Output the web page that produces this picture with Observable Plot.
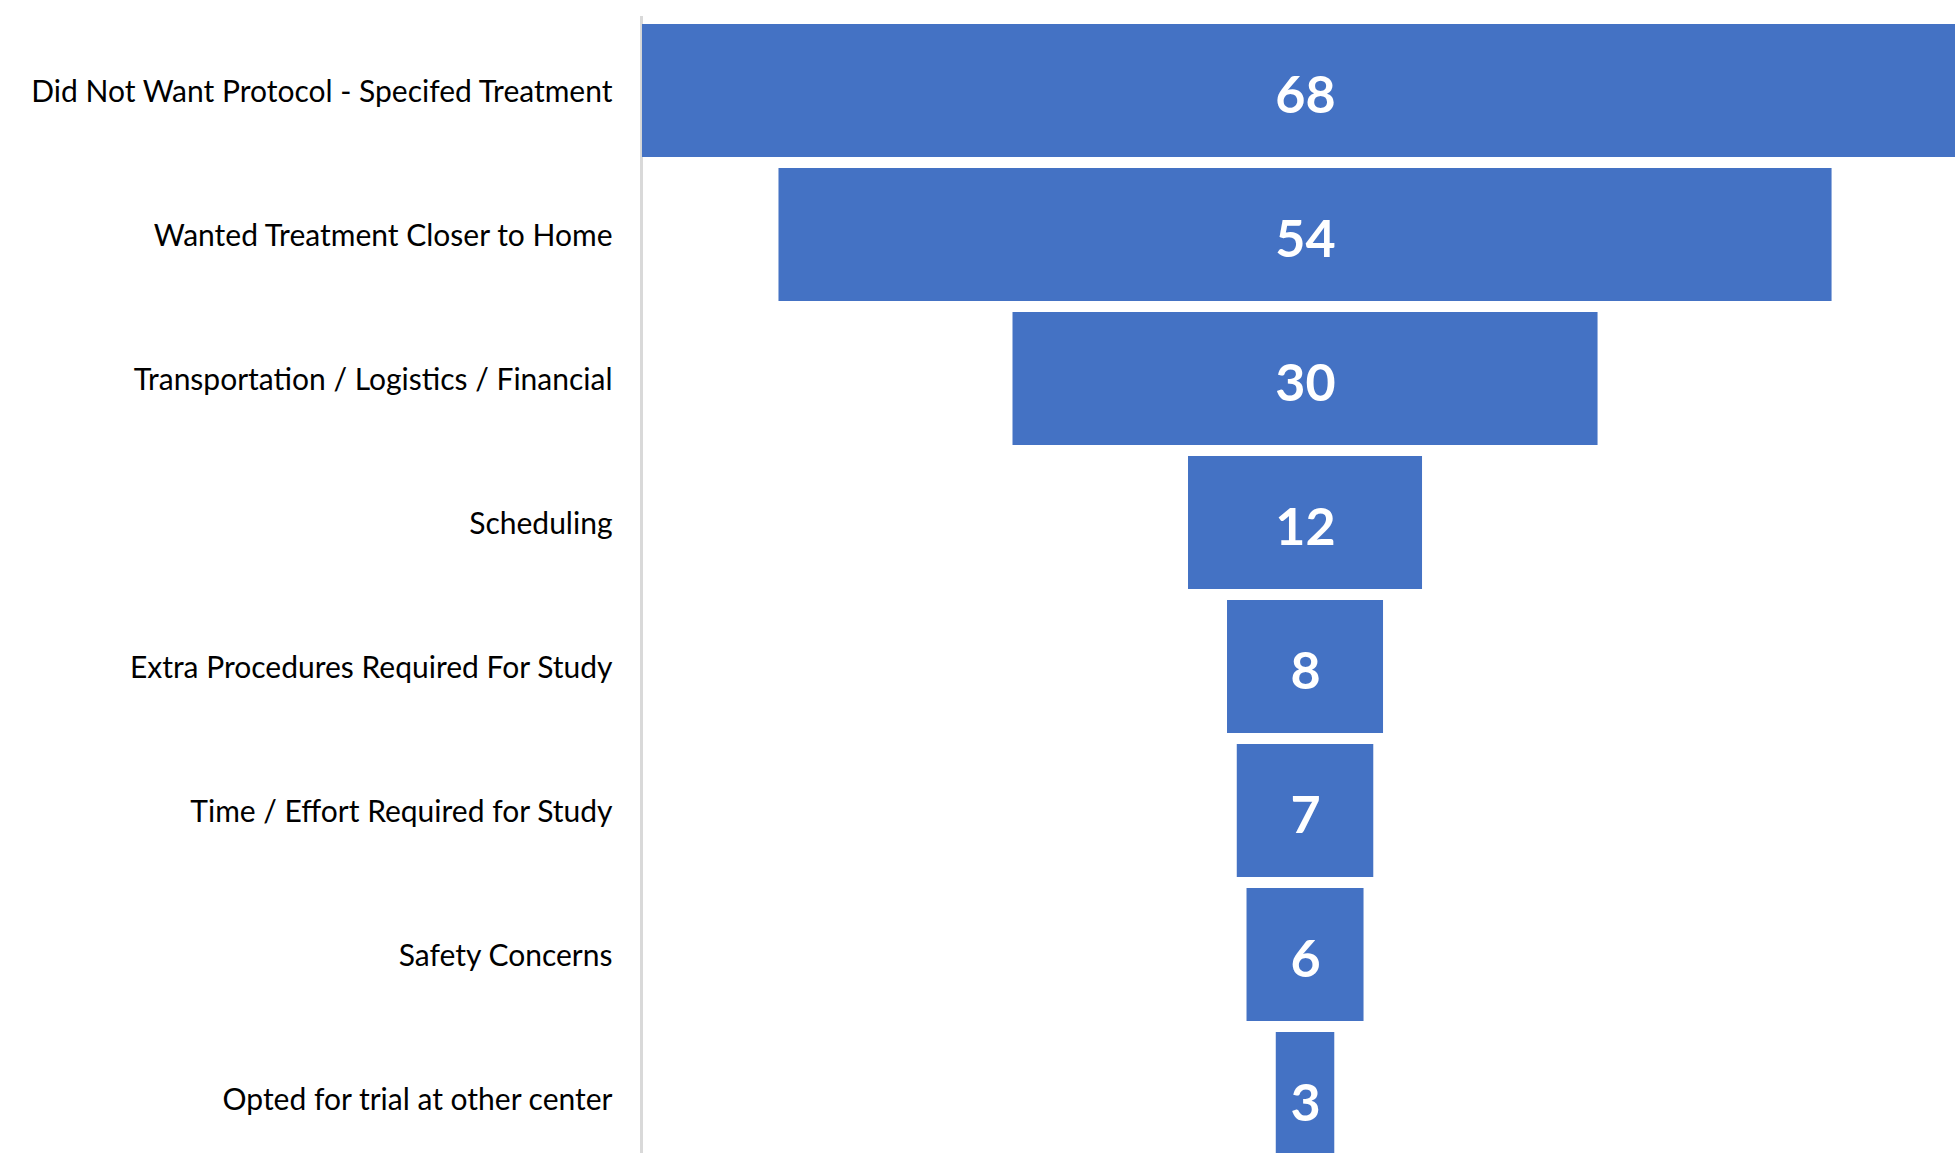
<!DOCTYPE html>
<html>
<head>
<meta charset="utf-8">
<script src="https://cdn.jsdelivr.net/npm/d3@7"></script>
<script src="https://cdn.jsdelivr.net/npm/@observablehq/plot@0.6"></script>
<style>
  html, body { margin: 0; padding: 0; background: #ffffff; }
  #chart svg { display: block; overflow: hidden; }
</style>
</head>
<body>
<div id="chart"></div>
<script>
const reasons = [
  "Did Not Want Protocol - Specifed Treatment",
  "Wanted Treatment Closer to Home",
  "Transportation / Logistics / Financial",
  "Scheduling",
  "Extra Procedures Required For Study",
  "Time / Effort Required for Study",
  "Safety Concerns",
  "Opted for trial at other center"
];
const counts = [68, 54, 30, 12, 8, 7, 6, 3];

const data = reasons.map((r, i) => ({reason: r, count: counts[i]}));

const chart = Plot.plot({
  width: 1955,
  height: 1153,
  marginLeft: 641,
  marginRight: 0,
  marginTop: 17,
  marginBottom: 0,
  style: {background: "#ffffff", color: "#000000"},
  x: {domain: [-34.05, 33.33], axis: null},
  y: {domain: reasons, range: [11, 1178], padding: 0.075, label: null},
  marks: [
    Plot.frame({anchor: "left", stroke: "#d9d9d9", strokeWidth: 3}),
    Plot.barX(data, {
      y: "reason",
      x1: d => -d.count / 2,
      x2: d => d.count / 2,
      fill: "#4472c4",
      clip: true
    }),
    Plot.text(data, {
      y: "reason",
      x: 0,
      text: d => String(d.count),
      fill: "#ffffff",
      fontWeight: "bold",
      fontSize: 52,
      fontFamily: "Lato",
      dy: 5
    }),
    Plot.axisY({
      tickSize: 0,
      tickPadding: 29,
      fontSize: 30,
      fontFamily: "Lato",
      fill: "#000000",
      dy: 1,
      label: null
    })
  ]
});

document.getElementById("chart").appendChild(chart);
</script>
</body>
</html>
